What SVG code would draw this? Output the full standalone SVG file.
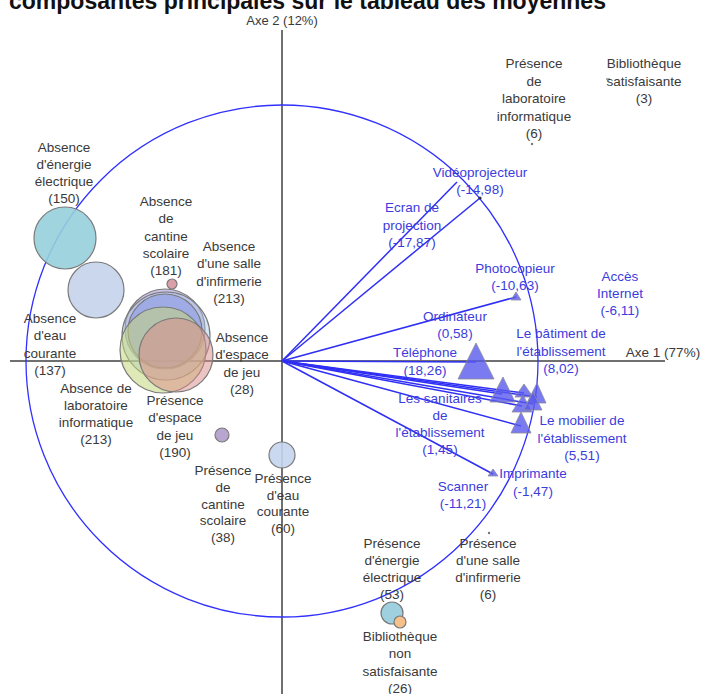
<svg xmlns="http://www.w3.org/2000/svg" width="702" height="694" viewBox="0 0 702 694">
<style>
.t{font-family:"Liberation Sans",Arial,sans-serif;font-size:13.5px;text-anchor:middle;fill:#3a3a3a}
.b{fill:#3c3cdc}
.ax{stroke:#404040;stroke-width:1.5;fill:none}
.vec{stroke:#2f2ff5;stroke-width:1.5;fill:none}
.tri{fill:#5a5aee;fill-opacity:0.8;stroke:#8a8a9a;stroke-width:0.8}
.bub{stroke:#7a7a7a;stroke-width:1.2}
</style>
<rect width="702" height="694" fill="#ffffff"/>
<text x="9" y="9" style="font-family:'Liberation Sans',Arial,sans-serif;font-size:23px;font-weight:bold;fill:#111">composantes principales sur le tableau des moyennes</text>

<g id="axes">
<line class="ax" x1="282" y1="30" x2="282" y2="694"/>
<line class="ax" x1="10" y1="361" x2="665" y2="361"/>
<text class="t" x="282" y="25" style="font-size:13px">Axe 2 (12%)</text>
<text class="t" x="663" y="357">Axe 1 (77%)</text>
</g>

<g id="circle"><circle cx="282" cy="361" r="256" fill="none" stroke="#3030ff" stroke-width="1.3"/></g>

<g id="connectors">
<line class="vec" x1="282" y1="361" x2="457" y2="182"/>
<line class="vec" x1="282" y1="361" x2="480" y2="198"/>
<line class="vec" x1="282" y1="361" x2="516" y2="297"/>
<line class="vec" x1="282" y1="361" x2="476" y2="362"/>
<line class="vec" x1="282" y1="361" x2="502" y2="394"/>
<line class="vec" x1="282" y1="361" x2="524" y2="393"/>
<line class="vec" x1="282" y1="361" x2="537" y2="397"/>
<line class="vec" x1="282" y1="361" x2="522" y2="406"/>
<line class="vec" x1="282" y1="361" x2="533" y2="404"/>
<line class="vec" x1="282" y1="361" x2="521" y2="426"/>
<line class="vec" x1="282" y1="361" x2="493" y2="474"/>
</g>

<g id="markers">
<circle cx="480" cy="198" r="1.6" fill="#333"/>
<polygon class="tri" points="516,292 511,300 521,300"/>
<polygon class="tri" points="493,469 488,476 498,476"/>
<polygon class="tri" points="476,343 458,379 494,379"/>
<polygon class="tri" points="503,377 490,402 515,402"/>
<polygon class="tri" points="524,384 515,397 533,397"/>
<polygon class="tri" points="537,383 527,403 546,403"/>
<polygon class="tri" points="523,395 512,412 532,412"/>
<polygon class="tri" points="533,392 524,410 542,410"/>
<polygon class="tri" points="521,412 511,433 531,433"/>
</g>

<g id="bubbles">
<circle class="bub" cx="65" cy="238" r="31" fill="#96cfdc" fill-opacity="0.9"/>
<circle class="bub" cx="96" cy="290" r="28" fill="#c4d3ea" fill-opacity="0.9"/>
<circle class="bub" cx="172" cy="284" r="5" fill="#d9a0a8"/>
<circle class="bub" cx="165" cy="329" r="40" fill="#a898d4" fill-opacity="0.6"/>
<circle class="bub" cx="166" cy="336" r="44" fill="#a8c8e8" fill-opacity="0.45"/>
<circle class="bub" cx="165" cy="331" r="37" fill="#7f8fe0" fill-opacity="0.45"/>
<circle class="bub" cx="163" cy="350" r="43" fill="#c4d67c" fill-opacity="0.55"/>
<circle class="bub" cx="176" cy="355" r="37" fill="#dc8a8a" fill-opacity="0.5"/>
<circle class="bub" cx="222" cy="435" r="7" fill="#b9a6d0"/>
<circle class="bub" cx="282" cy="455" r="13" fill="#c4d4ee" fill-opacity="0.9"/>
<circle class="bub" cx="392" cy="613" r="11" fill="#9fd0e0"/>
<circle class="bub" cx="400" cy="622" r="6" fill="#f5c08a"/>
<circle cx="532" cy="144" r="1.2" fill="#777"/>
<circle cx="489" cy="533" r="1.2" fill="#777"/>
<line x1="606" y1="79" x2="610" y2="79" stroke="#777" stroke-width="1.2"/>
</g>

<g id="labels-black">
<text class="t" x="64" y="152">Absence<tspan x="64" dy="17">d'énergie</tspan><tspan x="64" dy="17">électrique</tspan><tspan x="64" dy="17">(150)</tspan></text>
<text class="t" x="166" y="206">Absence<tspan x="166" dy="17.3">de</tspan><tspan x="166" dy="17.3">cantine</tspan><tspan x="166" dy="17.3">scolaire</tspan><tspan x="166" dy="17.3">(181)</tspan></text>
<text class="t" x="229" y="251">Absence<tspan x="229" dy="17.3">d'une salle</tspan><tspan x="229" dy="17.3">d'infirmerie</tspan><tspan x="229" dy="17.3">(213)</tspan></text>
<text class="t" x="50" y="323">Absence<tspan x="50" dy="17.3">d'eau</tspan><tspan x="50" dy="17.3">courante</tspan><tspan x="50" dy="17.3">(137)</tspan></text>
<text class="t" x="96" y="393">Absence de<tspan x="96" dy="17">laboratoire</tspan><tspan x="96" dy="17">informatique</tspan><tspan x="96" dy="17">(213)</tspan></text>
<text class="t" x="242" y="342">Absence<tspan x="242" dy="17.3">d'espace</tspan><tspan x="242" dy="17.3">de jeu</tspan><tspan x="242" dy="17.3">(28)</tspan></text>
<text class="t" x="175" y="405">Présence<tspan x="175" dy="17.3">d'espace</tspan><tspan x="175" dy="17.3">de jeu</tspan><tspan x="175" dy="17.3">(190)</tspan></text>
<text class="t" x="223" y="475">Présence<tspan x="223" dy="16.8">de</tspan><tspan x="223" dy="16.8">cantine</tspan><tspan x="223" dy="16.8">scolaire</tspan><tspan x="223" dy="16.8">(38)</tspan></text>
<text class="t" x="283" y="483">Présence<tspan x="283" dy="16.7">d'eau</tspan><tspan x="283" dy="16.7">courante</tspan><tspan x="283" dy="16.7">(60)</tspan></text>
<text class="t" x="392" y="548">Présence<tspan x="392" dy="17">d'énergie</tspan><tspan x="392" dy="17">électrique</tspan><tspan x="392" dy="17">(53)</tspan></text>
<text class="t" x="488" y="548">Présence<tspan x="488" dy="17">d'une salle</tspan><tspan x="488" dy="17">d'infirmerie</tspan><tspan x="488" dy="17">(6)</tspan></text>
<text class="t" x="400" y="641">Bibliothèque<tspan x="400" dy="17.3">non</tspan><tspan x="400" dy="17.3">satisfaisante</tspan><tspan x="400" dy="17.3">(26)</tspan></text>
<text class="t" x="534" y="68">Présence<tspan x="534" dy="17.5">de</tspan><tspan x="534" dy="17.5">laboratoire</tspan><tspan x="534" dy="17.5">informatique</tspan><tspan x="534" dy="17.5">(6)</tspan></text>
<text class="t" x="644" y="68">Bibliothèque<tspan x="644" dy="17.5">satisfaisante</tspan><tspan x="644" dy="17.5">(3)</tspan></text>
</g>

<g id="labels-blue">
<text class="t b" x="480" y="177">Vidéoprojecteur<tspan x="480" dy="16.5">(-14,98)</tspan></text>
<text class="t b" x="412" y="212">Ecran de<tspan x="412" dy="17.5">projection</tspan><tspan x="412" dy="17.5">(-17,87)</tspan></text>
<text class="t b" x="515" y="273">Photocopieur<tspan x="515" dy="17">(-10,63)</tspan></text>
<text class="t b" x="620" y="281">Accès<tspan x="620" dy="17">Internet</tspan><tspan x="620" dy="17">(-6,11)</tspan></text>
<text class="t b" x="455" y="321">Ordinateur<tspan x="455" dy="17">(0,58)</tspan></text>
<text class="t b" x="425" y="357">Téléphone<tspan x="425" dy="18">(18,26)</tspan></text>
<text class="t b" x="561" y="338">Le bâtiment de<tspan x="561" dy="17.5">l'établissement</tspan><tspan x="561" dy="17.5">(8,02)</tspan></text>
<text class="t b" x="440" y="403">Les sanitaires<tspan x="440" dy="17">de</tspan><tspan x="440" dy="17">l'établissement</tspan><tspan x="440" dy="17">(1,45)</tspan></text>
<text class="t b" x="582" y="425">Le mobilier de<tspan x="582" dy="17.5">l'établissement</tspan><tspan x="582" dy="17.5">(5,51)</tspan></text>
<text class="t b" x="533" y="478">Imprimante<tspan x="533" dy="18">(-1,47)</tspan></text>
<text class="t b" x="463" y="491">Scanner<tspan x="463" dy="16.5">(-11,21)</tspan></text>
</g>
</svg>
